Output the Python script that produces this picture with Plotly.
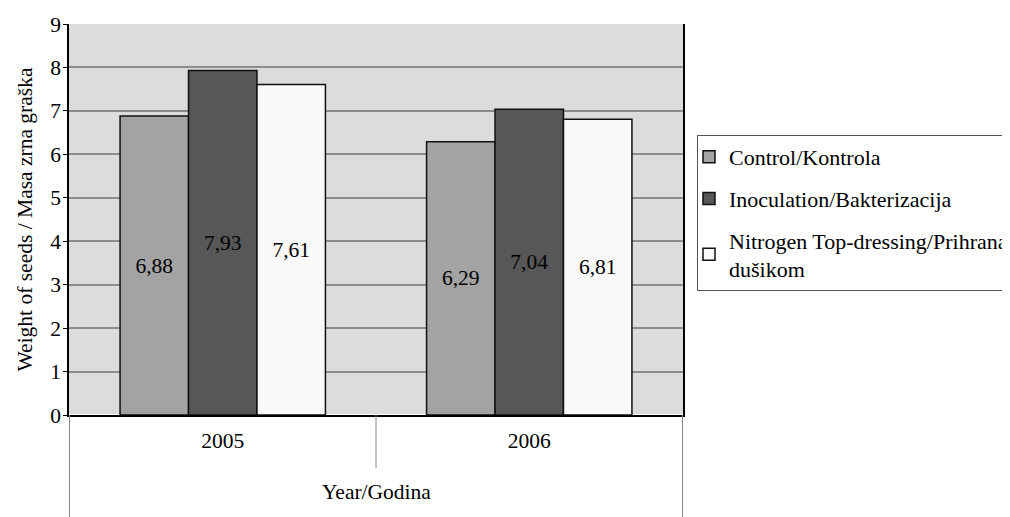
import plotly.graph_objects as go

years = ["2005", "2006"]
series_names = ["Control/Kontrola", "Inoculation/Bakterizacija", "Nitrogen Top-dressing/Prihrana<br>dušikom"]
control = [6.88, 6.29]
inoculation = [7.93, 7.04]
nitrogen = [7.61, 6.81]
colors = ["#a3a3a3", "#575757", "#f9f9f9"]
y_ticks = [0, 1, 2, 3, 4, 5, 6, 7, 8, 9]

FONT = "Liberation Serif"
FS = 21.5
fig = go.Figure()
for i, (name, vals) in enumerate(zip(series_names, [control, inoculation, nitrogen])):
    fig.add_trace(go.Bar(
        x=years, y=vals, name=name, legendgroup=str(i),
        marker=dict(color=colors[i], line=dict(color="#111111", width=1.5)),
        text=[f"{v:.2f}".replace(".", ",") for v in vals],
        textposition="inside", insidetextanchor="middle",
        insidetextfont=dict(color="black", size=FS, family=FONT),
        textangle=0,
    ))

# page has an 8px body margin: figure is 1002x509 placed at (8, 8)
fig.update_layout(
    width=1002, height=509,
    margin=dict(l=61, r=327, t=16, b=102, autoexpand=False),
    paper_bgcolor="white", plot_bgcolor="#dcdcdc",
    barmode="group", bargap=0.33, bargroupgap=0,
    font=dict(family=FONT, size=FS, color="black"),
    showlegend=True,
    legend=dict(x=1.0228, y=0.716, xanchor="left", yanchor="top",
                bordercolor="#555555", borderwidth=1, bgcolor="white",
                font=dict(size=22, family=FONT), traceorder="grouped",
                tracegroupgap=10, itemwidth=30, indentation=-9),
    xaxis=dict(showline=True, linecolor="black", linewidth=1.5, ticks="",
               tickfont=dict(size=FS), ticklabelstandoff=5, automargin=False),
    yaxis=dict(range=[0, 9], tickvals=y_ticks, showgrid=True, gridcolor="#8c8c8c",
               gridwidth=1.5, showline=True, linecolor="black", linewidth=1.5,
               mirror=True, ticks="outside", ticklen=4, tickcolor="black",
               tickfont=dict(size=FS), automargin=False, ticklabelstandoff=-2,
               title=dict(text="Weight of seeds / Masa zrna graška", font=dict(size=FS), standoff=12)),
)

# category separators below the axis
fig.add_shape(type="line", xref="x", yref="paper", x0=0.5, x1=0.5, y0=0, y1=-0.136,
              line=dict(color="#888888", width=1))
for xv in [-0.5, 1.5]:
    fig.add_shape(type="line", xref="x", yref="paper", x0=xv, x1=xv, y0=0, y1=-0.265,
                  line=dict(color="#888888", width=1))

fig.add_annotation(text="Year/Godina", xref="x", yref="paper", x=0.5, y=-0.197,
                   showarrow=False, yanchor="middle", font=dict(size=FS, family=FONT))

fig.write_html("out.html")
